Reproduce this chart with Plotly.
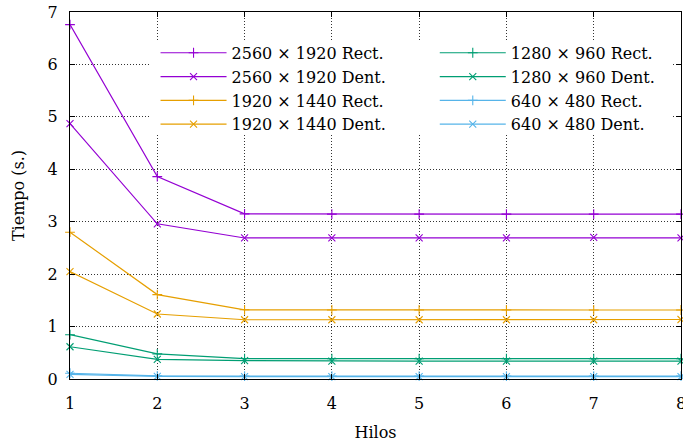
import plotly.graph_objects as go

hilos = [1, 2, 3, 4, 5, 6, 7, 8]

r2560_rect = [6.76, 3.86, 3.15, 3.145, 3.145, 3.145, 3.145, 3.145]
r2560_dent = [4.87, 2.96, 2.69, 2.69, 2.69, 2.69, 2.70, 2.69]
r1920_rect = [2.80, 1.61, 1.32, 1.316, 1.316, 1.316, 1.316, 1.316]
r1920_dent = [2.05, 1.24, 1.13, 1.13, 1.13, 1.13, 1.13, 1.135]
r1280_rect = [0.845, 0.48, 0.39, 0.387, 0.387, 0.387, 0.387, 0.387]
r1280_dent = [0.615, 0.375, 0.35, 0.34, 0.34, 0.34, 0.34, 0.34]
r640_rect = [0.11, 0.06, 0.055, 0.055, 0.055, 0.055, 0.055, 0.055]
r640_dent = [0.09, 0.05, 0.045, 0.045, 0.045, 0.045, 0.045, 0.045]

series = [
    ("2560 × 1920 Rect.", r2560_rect, "#9400D3", "cross-thin", "legend"),
    ("2560 × 1920 Dent.", r2560_dent, "#9400D3", "x-thin", "legend"),
    ("1920 × 1440 Rect.", r1920_rect, "#E69F00", "cross-thin", "legend"),
    ("1920 × 1440 Dent.", r1920_dent, "#E69F00", "x-thin", "legend"),
    ("1280 × 960 Rect.", r1280_rect, "#009E73", "cross-thin", "legend2"),
    ("1280 × 960 Dent.", r1280_dent, "#009E73", "x-thin", "legend2"),
    ("640 × 480 Rect.", r640_rect, "#56B4E9", "cross-thin", "legend2"),
    ("640 × 480 Dent.", r640_dent, "#56B4E9", "x-thin", "legend2"),
]

FONT = "DejaVu Serif"

fig = go.Figure()
for name, vals, color, sym, leg in series:
    fig.add_trace(go.Scatter(
        x=hilos, y=vals, name=name, mode="lines+markers",
        line=dict(color=color, width=1.2),
        marker=dict(symbol=sym, size=7, color=color, line=dict(color=color, width=1.1)),
        legend=leg, cliponaxis=False,
    ))

# opaque key box (covers grid, like gnuplot's opaque key)
fig.add_shape(type="rect", xref="x", yref="y", x0=1.91, x1=7.9, y0=4.69, y1=6.45,
              fillcolor="white", line=dict(width=0), layer="between")

axis_common = dict(
    showline=True, linecolor="black", linewidth=1, mirror="allticks",
    ticks="inside", ticklen=5, tickcolor="black", tickwidth=1,
    showgrid=True, gridcolor="rgba(0,0,0,0.8)", gridwidth=1, griddash="1px,2px",
    zeroline=False, tickfont=dict(family=FONT, size=16, color="black"),
    automargin=False, ticklabeloverflow="allow",
)

fig.update_xaxes(range=[1, 8], tickvals=hilos, ticklabelstandoff=10,
                 title=dict(text="Hilos", font=dict(family=FONT, size=16, color="black"), standoff=14),
                 **axis_common)
fig.update_yaxes(range=[0, 7], tickvals=[0, 1, 2, 3, 4, 5, 6, 7], ticklabelstandoff=8,
                 title=dict(text="Tiempo (s.)", font=dict(family=FONT, size=16, color="black"), standoff=19),
                 **axis_common)

leg_common = dict(bgcolor="rgba(0,0,0,0)", borderwidth=0, xref="paper", yref="paper",
                  xanchor="left", yanchor="top", itemwidth=66,
                  font=dict(family=FONT, size=16, color="black"), tracegroupgap=0)
fig.update_layout(
    width=683, height=447,
    margin=dict(l=70, r=2, t=12, b=68),
    paper_bgcolor="white", plot_bgcolor="white",
    showlegend=True,
    legend=dict(x=0.14, y=0.935, **leg_common),
    legend2=dict(x=0.597, y=0.935, **leg_common),
)

fig.write_html("out.html", config={"displayModeBar": False},
               post_script="document.body.style.margin='0';document.body.style.padding='0';")
